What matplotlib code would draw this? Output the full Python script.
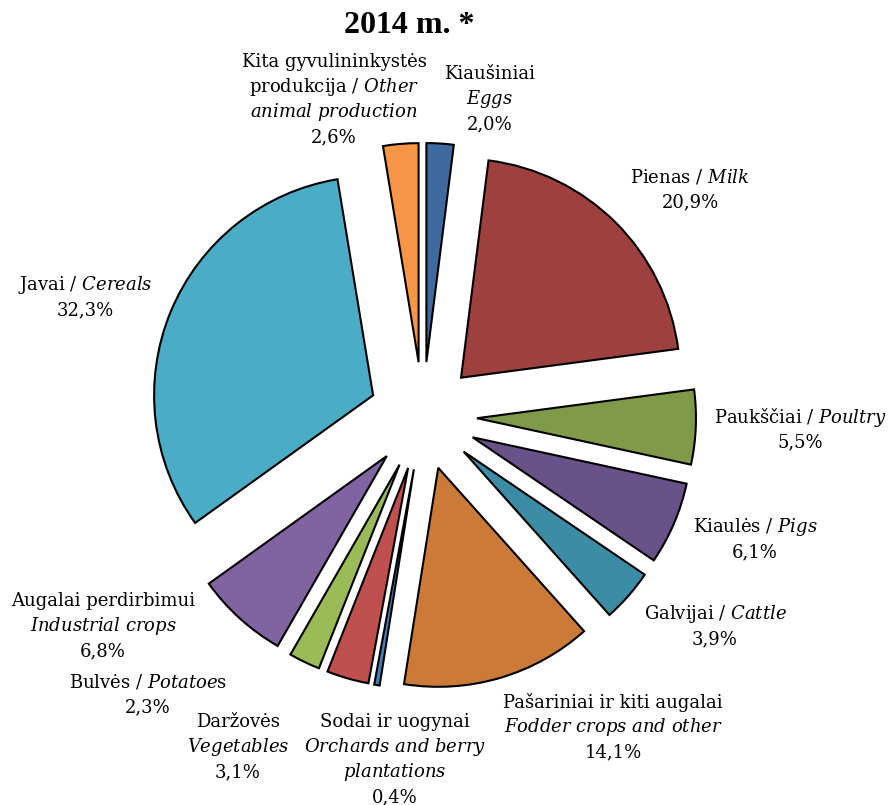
import matplotlib.pyplot as plt

plt.rcParams['font.family'] = 'DejaVu Serif'
plt.rcParams['mathtext.fontset'] = 'custom'
plt.rcParams['mathtext.rm'] = 'DejaVu Serif'
plt.rcParams['mathtext.it'] = 'DejaVu Serif:italic'

# clockwise from the top
shares = [2.0, 20.9, 5.5, 6.1, 3.9, 14.1, 0.4, 3.1, 2.3, 6.8, 32.3, 2.6]
colors = ['#3F6AA0', '#9E413E', '#7F9B4A', '#69518A', '#3B8CA5', '#CC7A37',
          '#4A7EBB', '#C0504D', '#9BBB59', '#8064A2', '#4BACC6', '#F79646']
labels = [
    ["Kiaušiniai", r"$\mathit{Eggs}$"],
    [r"Pienas / $\mathit{Milk}$"],
    [r"Paukščiai / $\mathit{Poultry}$"],
    [r"Kiaulės / $\mathit{Pigs}$"],
    [r"Galvijai / $\mathit{Cattle}$"],
    ["Pašariniai ir kiti augalai", r"$\mathit{Fodder\ crops\ and\ other}$"],
    ["Sodai ir uogynai", r"$\mathit{Orchards\ and\ berry}$", r"$\mathit{plantations}$"],
    ["Daržovės", r"$\mathit{Vegetables}$"],
    [r"Bulvės / $\mathit{Potatoe}$s"],
    ["Augalai perdirbimui", r"$\mathit{Industrial\ crops}$"],
    [r"Javai / $\mathit{Cereals}$"],
    ["Kita gyvulininkystės", r"produkcija / $\mathit{Other}$",
     r"$\mathit{animal\ production}$"],
]
# label anchor: x centre and y of first line (pixels from top)
label_pos = [(490, 74), (690, 177), (800, 417), (755, 527), (715, 614),
             (613, 702), (395, 722), (238, 722), (148, 682), (103, 601),
             (85, 285), (334, 62)]

W, H = 889, 805
fig = plt.figure(figsize=(W / 100, H / 100), dpi=100)
ax = fig.add_axes([0, 0, 1, 1])

# explode is in data units (pixels here)
ax.pie(shares, colors=colors, startangle=90, counterclock=False,
       center=(423, H - 416), radius=219, explode=[54] * len(shares),
       wedgeprops=dict(edgecolor='black', linewidth=1.5), frame=True)
ax.set_xlim(0, W)
ax.set_ylim(0, H)
ax.axis('off')

for lines, share, (x, y) in zip(labels, shares, label_pos):
    rows = lines + [f"{share:.1f}%".replace('.', ',')]
    for k, row in enumerate(rows):
        ax.text(x, H - (y + 25 * k), row, ha='center', va='center', fontsize=13)

ax.text(409, H - 25, "2014 m. *", ha='center', va='center',
        fontsize=23, fontweight='bold', family='Liberation Serif')

fig.savefig('out.png', dpi=100)
